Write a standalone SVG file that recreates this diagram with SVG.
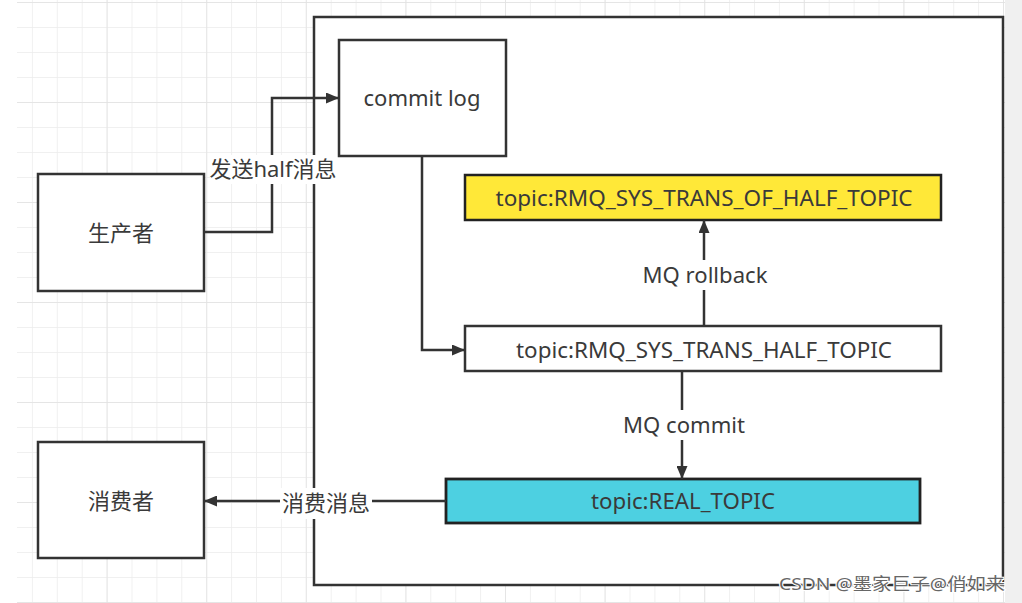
<svg xmlns="http://www.w3.org/2000/svg" width="1022" height="603" viewBox="0 0 1022 603">
<style>
.box{fill:#fff;stroke:#333;stroke-width:2.5}
.lbl{font-family:"Noto Sans","Noto Sans CJK SC",sans-serif;font-size:22px;fill:#3a3a3a;text-anchor:middle}
.edge{fill:none;stroke:#333;stroke-width:2.5}
.bg{fill:#fff}
</style>
<defs>
<pattern id="minor" patternUnits="userSpaceOnUse" x="7" y="2" width="24.9" height="25">
<path d="M0,0 V25 M0,0 H24.9" fill="none" stroke="#ececec" stroke-width="1.5"/>
</pattern>
<pattern id="major" patternUnits="userSpaceOnUse" x="7" y="2" width="99.6" height="100">
<path d="M0,0 V100 M0,0 H99.6" fill="none" stroke="#e2e2e2" stroke-width="1.5"/>
</pattern>
<marker id="arr" markerUnits="userSpaceOnUse" markerWidth="13" markerHeight="11" refX="13" refY="5.5" orient="auto">
<path d="M0,0 L13,5.5 L0,11 z" fill="#333"/>
</marker>
</defs>
<rect x="0" y="0" width="1022" height="603" fill="#fff"/>
<rect x="17" y="0" width="988" height="603" fill="url(#minor)"/>
<rect x="17" y="0" width="988" height="603" fill="url(#major)"/>
<rect x="1005" y="0" width="17" height="603" fill="#f0f0f0"/>

<g id="container"><rect class="box" x="314" y="17" width="689" height="568"/></g>

<g id="producer"><rect class="box" x="38" y="174" width="166" height="117"/><text class="lbl" x="121" y="241">生产者</text></g>
<g id="consumer"><rect class="box" x="38" y="442" width="166" height="116"/><text class="lbl" x="121" y="509">消费者</text></g>
<g id="commitlog"><rect class="box" x="339" y="40" width="167" height="116"/><text class="lbl" x="422" y="106" textLength="117" lengthAdjust="spacingAndGlyphs">commit log</text></g>
<g id="halfof"><rect x="465" y="175" width="476" height="45" fill="#ffe838" stroke="#222" stroke-width="2.5"/><text class="lbl" x="704" y="206" textLength="417" lengthAdjust="spacingAndGlyphs">topic:RMQ_SYS_TRANS_OF_HALF_TOPIC</text></g>
<g id="half"><rect class="box" x="465" y="326" width="476" height="45"/><text class="lbl" x="704" y="358" textLength="376" lengthAdjust="spacingAndGlyphs">topic:RMQ_SYS_TRANS_HALF_TOPIC</text></g>
<g id="real"><rect x="446" y="479" width="474" height="44" fill="#4dd0e1" stroke="#222" stroke-width="2.8"/><text class="lbl" x="683" y="509" textLength="184" lengthAdjust="spacingAndGlyphs">topic:REAL_TOPIC</text></g>

<g id="connectors">
<path class="edge" d="M204,232 H272 V98 H339" marker-end="url(#arr)"/>
<path class="edge" d="M422,156 V350 H465" marker-end="url(#arr)"/>
<path class="edge" d="M704,326 V220" marker-end="url(#arr)"/>
<path class="edge" d="M682,371 V479" marker-end="url(#arr)"/>
<path class="edge" d="M446,501 H204" marker-end="url(#arr)"/>
<rect class="bg" x="210" y="155" width="127" height="29"/>
<text class="lbl" x="273" y="177">发送half消息</text>
<rect class="bg" x="280" y="488" width="92" height="31"/>
<text class="lbl" x="326" y="511">消费消息</text>
<rect class="bg" x="640" y="260" width="130" height="30"/>
<text class="lbl" x="705" y="283" textLength="125" lengthAdjust="spacingAndGlyphs">MQ rollback</text>
<rect class="bg" x="620" y="410" width="128" height="30"/>
<text class="lbl" x="684" y="433" textLength="122" lengthAdjust="spacingAndGlyphs">MQ commit</text>
</g>
<text x="1005" y="590" font-family="Noto Sans,Noto Sans CJK SC,sans-serif" font-size="17" fill="#666" stroke="#fff" stroke-width="2" paint-order="stroke" text-anchor="end" textLength="226" lengthAdjust="spacingAndGlyphs">CSDN @墨家巨子@俏如来</text>
</svg>
